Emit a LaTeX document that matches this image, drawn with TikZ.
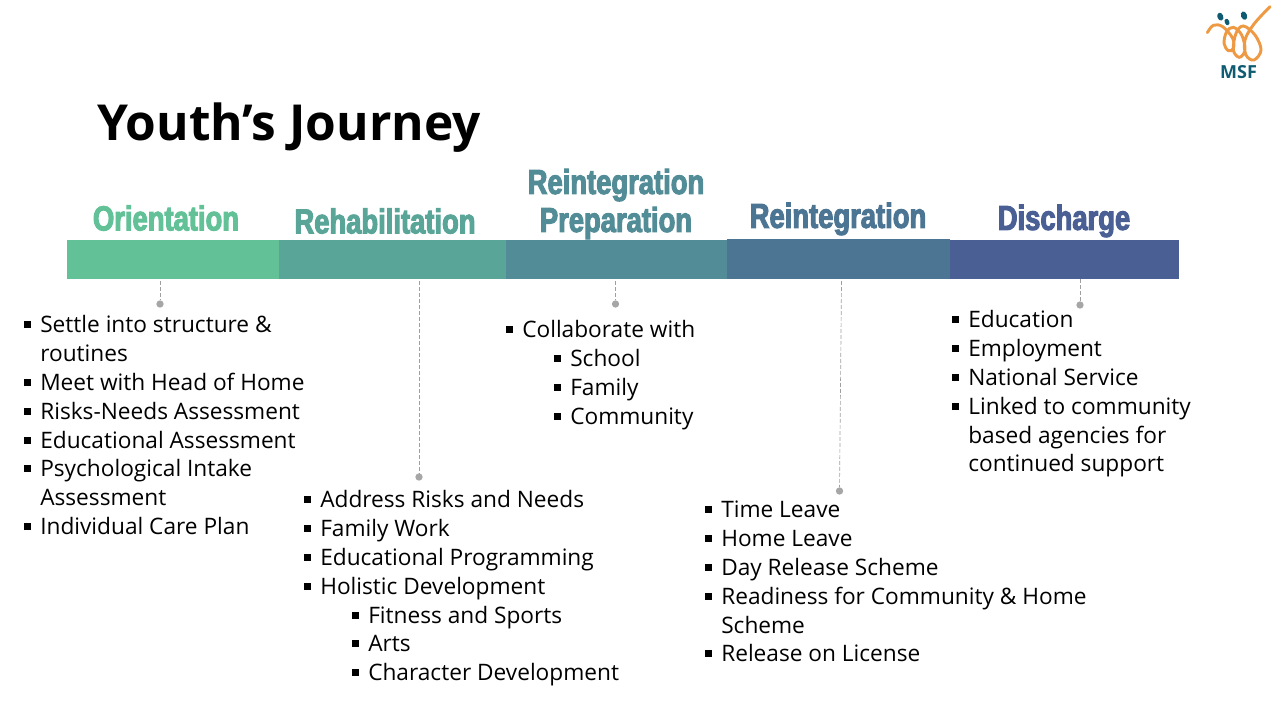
\documentclass[tikz,border=0pt]{standalone}
\usepackage{fontspec}
\setmainfont{Open Sans}
\newfontfamily\stagefont[FakeStretch=0.79,FakeBold=3]{Liberation Sans Bold}
\definecolor{orientcol}{HTML}{62C197}
\definecolor{rehabcol}{HTML}{59A598}
\definecolor{prepcol}{HTML}{528C97}
\definecolor{reintcol}{HTML}{4C7594}
\definecolor{dischcol}{HTML}{4A6095}
\definecolor{msfteal}{HTML}{0F5C72}
\definecolor{msforange}{HTML}{EE9A45}
\tikzset{
  barseg/.style={minimum height=29.25pt, inner sep=0pt, outer sep=0pt, anchor=west},
  stage/.style={font=\stagefont\fontsize{26}{28.5}\selectfont, inner sep=0pt, align=center},
  itemtext/.style={font=\fontsize{17}{20}\selectfont, inner sep=0pt, anchor=base west},
  leader/.style={dashed, dash pattern=on 3pt off 1.5pt, gray!75, line width=0.5pt},
  leaderdot/.style={circle, fill=gray!70, minimum size=5.5pt, inner sep=0pt},
}
\newcommand{\itemrow}[3]{%
  \fill (#1-16.5,#2-11.5) rectangle ++(7,7);
  \node[itemtext] at (#1,#2) {#3};}
\begin{document}
\begin{tikzpicture}[x=0.75pt,y=-0.75pt]
  \useasboundingbox (0,0) rectangle (1280,720);

  % Title
  \node[font=\bfseries\fontsize{37.2}{42}\selectfont, inner sep=0pt, anchor=base west] (title) at (97,141) {Youth’s Journey};

  % Bar
  \node[barseg, fill=orientcol, minimum width=159pt] (barA) at (67,259.5) {};
  \node[barseg, fill=rehabcol, minimum width=170.25pt] (barB) at (279,259.5) {};
  \node[barseg, fill=prepcol, minimum width=165.75pt] (barC) at (506,259.5) {};
  \node[barseg, fill=reintcol, minimum width=167.25pt, minimum height=30pt] (barD) at (727,259) {};
  \node[barseg, fill=dischcol, minimum width=171.75pt] (barE) at (950,259.5) {};

  % Stage names
  \node[stage, text=orientcol] (stageA) at (166,218) {Orientation};
  \node[stage, text=rehabcol] (stageB) at (385,221) {Rehabilitation};
  \node[stage, text=prepcol, align=center] (stageC) at (616,204) {Reintegration\\Preparation};
  \node[stage, text=reintcol] (stageD) at (838,219) {Reintegration};
  \node[stage, text=dischcol] (stageE) at (1064,221) {Discharge};

  % Leaders
  \node[leaderdot] (dotA) at (160,304) {};
  \node[leaderdot] (dotB) at (419,477) {};
  \node[leaderdot] (dotC) at (615.5,304) {};
  \node[leaderdot] (dotD) at (839.5,491) {};
  \node[leaderdot] (dotE) at (1080,305) {};
  \draw[leader] (barA.south -| dotA) ++(0,2) -- (dotA);
  \draw[leader] (barB.south -| dotB) ++(0,2) -- (dotB);
  \draw[leader] (barC.south -| dotC) ++(0,2) -- (dotC);
  \draw[leader] ([xshift=1.5pt]barD.south -| dotD) ++(0,2) -- (dotD);
  \draw[leader] (barE.south -| dotE) -- (dotE);

  % Orientation
  \itemrow{40}{332}{Settle into structure \&}
  \node[itemtext] (lineA) at (40,361) {routines};
  \itemrow{40}{390}{Meet with Head of Home}
  \itemrow{40}{419}{Risks-Needs Assessment}
  \itemrow{40}{448}{Educational Assessment}
  \itemrow{40}{476}{Psychological Intake}
  \node[itemtext] (lineB) at (40,505) {Assessment};
  \itemrow{40}{534}{Individual Care Plan}

  % Rehabilitation
  \itemrow{320}{507}{Address Risks and Needs}
  \itemrow{320}{536}{Family Work}
  \itemrow{320}{565}{Educational Programming}
  \itemrow{320}{594}{Holistic Development}
  \itemrow{368}{623}{Fitness and Sports}
  \itemrow{368}{651}{Arts}
  \itemrow{368}{680}{Character Development}

  % Reintegration Preparation
  \itemrow{522}{337}{Collaborate with}
  \itemrow{570}{366}{School}
  \itemrow{570}{395}{Family}
  \itemrow{570}{424}{Community}

  % Reintegration
  \itemrow{721}{517}{Time Leave}
  \itemrow{721}{546}{Home Leave}
  \itemrow{721}{575}{Day Release Scheme}
  \itemrow{721}{604}{Readiness for Community \& Home}
  \node[itemtext] (lineC) at (721,633) {Scheme};
  \itemrow{721}{661}{Release on License}

  % Discharge
  \itemrow{968}{327}{Education}
  \itemrow{968}{356}{Employment}
  \itemrow{968}{385}{National Service}
  \itemrow{968}{414}{Linked to community}
  \node[itemtext] (lineD) at (968,443) {based agencies for};
  \node[itemtext] (lineE) at (968,471) {continued support};

  % Logo
  \begin{scope}[shift={(1180,0)},scale=1/3]
    \draw[msforange, line width=2.2pt, line cap=round] plot[smooth, tension=0.6] coordinates {(82,98) (100,76) (128,80) (158,115) (160,145) (145,152) (132,130) (140,95) (160,82) (185,105) (195,150) (178,172) (160,150) (168,100) (190,78) (225,105) (243,150) (222,180) (198,165) (195,120) (222,72) (270,20)};
    \fill[msfteal, rotate around={20:(121,50)}] (121,50) ellipse (9 and 12);
    \fill[msfteal, rotate around={20:(141,66)}] (141,66) ellipse (7 and 10);
    \fill[msfteal, rotate around={20:(192,47)}] (192,47) ellipse (9 and 13);
  \end{scope}
  \node[font=\bfseries\fontsize{13.5}{15}\selectfont, text=msfteal, inner sep=0pt] (msf) at (1238.5,72) {MSF};
\end{tikzpicture}
\end{document}
